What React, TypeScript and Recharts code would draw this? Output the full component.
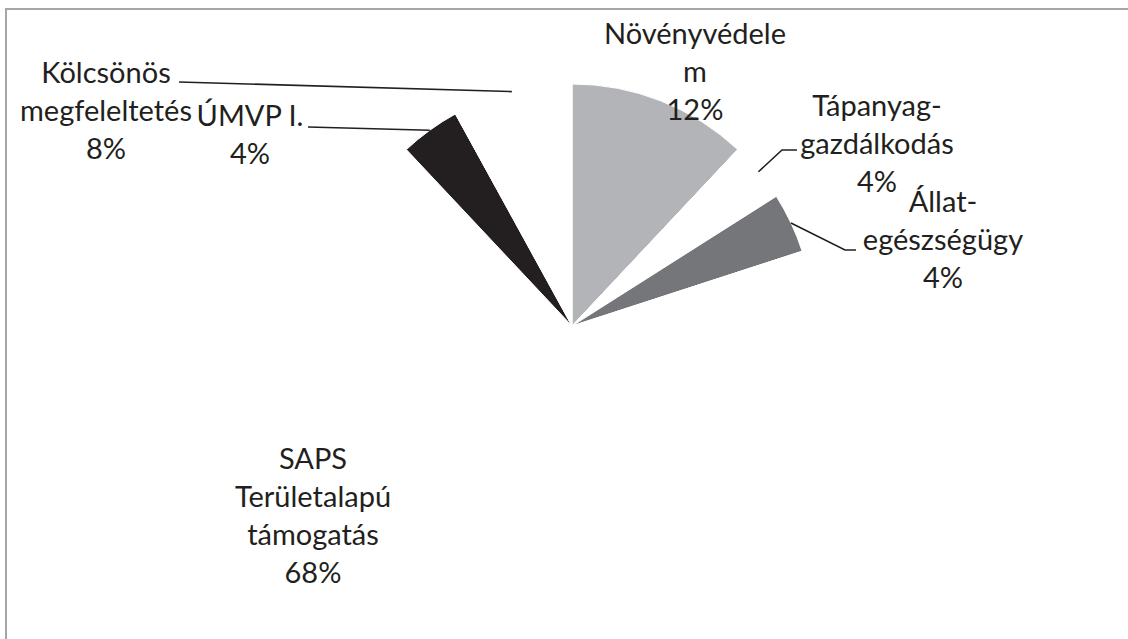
import React from "react";
import { PieChart, Pie, Cell } from "recharts";

// slices in clockwise order starting at 12 o'clock
const categories = [
  "Növényvédelem",
  "Tápanyag-gazdálkodás",
  "Állat-egészségügy",
  "SAPS Területalapú támogatás",
  "ÚMVP I.",
  "Kölcsönös megfeleltetés",
];
const shares = [12, 4, 4, 68, 4, 8];
const labelLines = [
  ["Növényvédele", "m"],
  ["Tápanyag-", "gazdálkodás"],
  ["Állat-", "egészségügy"],
  ["SAPS", "Területalapú", "támogatás"],
  ["ÚMVP I."],
  ["Kölcsönös", "megfeleltetés"],
];
const colors = ["#b3b4b7", "#ffffff", "#75767a", "#ffffff", "#231f20", "#ffffff"];

// label placement (page px): text centre x, first baseline, leader elbow/end
const labelLayout: Record<string, { x: number; y: number; line?: number[][] }> = {
  "Növényvédelem": { x: 695, y: 44 },
  "Tápanyag-gazdálkodás": { x: 877, y: 116, line: [[782, 150], [797, 150]] },
  "Állat-egészségügy": { x: 943, y: 212, line: [[845, 250], [856, 250]] },
  "SAPS Területalapú támogatás": { x: 313, y: 469 },
  "ÚMVP I.": { x: 250, y: 126, line: [[308, 127]] },
  "Kölcsönös megfeleltetés": { x: 106, y: 83, line: [[179, 82]] },
};

const LINE_H = 38;
const RADIAN = Math.PI / 180;
const FONT = "Lato, 'Open Sans', sans-serif";

const data = categories.map((name, i) => ({ name, value: shares[i] }));

function renderLabel(props: any) {
  const { cx, cy, midAngle, outerRadius, index, percent } = props;
  const name = categories[index];
  const lay = labelLayout[name];
  const lines = [...labelLines[index], `${Math.round(percent * 100)}%`];
  let leader = null;
  if (lay.line) {
    const sx = cx + outerRadius * Math.cos(-midAngle * RADIAN);
    const sy = cy + outerRadius * Math.sin(-midAngle * RADIAN);
    const pts = [[sx, sy], ...lay.line].map((p) => p.join(",")).join(" ");
    leader = <polyline points={pts} fill="none" stroke="#231f20" strokeWidth={1.6} />;
  }
  return (
    <g key={`lbl-${index}`}>
      {leader}
      <text textAnchor="middle" fontFamily={FONT} fontSize={29} fill="#231f20">
        {lines.map((t, i) => (
          <tspan key={i} x={lay.x} y={lay.y + i * LINE_H}>
            {t}
          </tspan>
        ))}
      </text>
    </g>
  );
}

export default function App() {
  return (
    <div style={{ position: "absolute", left: 0, top: 0, width: 1128, height: 639, overflow: "hidden", background: "#fff" }}>
      {/* chart frame: only its top and left edges fall inside the picture */}
      <div
        style={{
          position: "absolute",
          left: 5,
          top: 8,
          width: 1200,
          height: 700,
          borderTop: "2px solid #a6a6a6",
          borderLeft: "2px solid #a6a6a6",
        }}
      />
      <div style={{ position: "absolute", left: 0, top: 0 }}>
        <PieChart width={1128} height={639} margin={{ top: 0, right: 0, bottom: 0, left: 0 }}>
          <Pie
            data={data}
            dataKey="value"
            nameKey="name"
            cx={572}
            cy={326}
            outerRadius={242}
            startAngle={90}
            endAngle={-270}
            stroke="#ffffff"
            strokeWidth={1}
            label={renderLabel}
            labelLine={false}
            isAnimationActive={false}
          >
            {data.map((d, i) => (
              <Cell key={d.name} fill={colors[i]} />
            ))}
          </Pie>
        </PieChart>
      </div>
    </div>
  );
}
